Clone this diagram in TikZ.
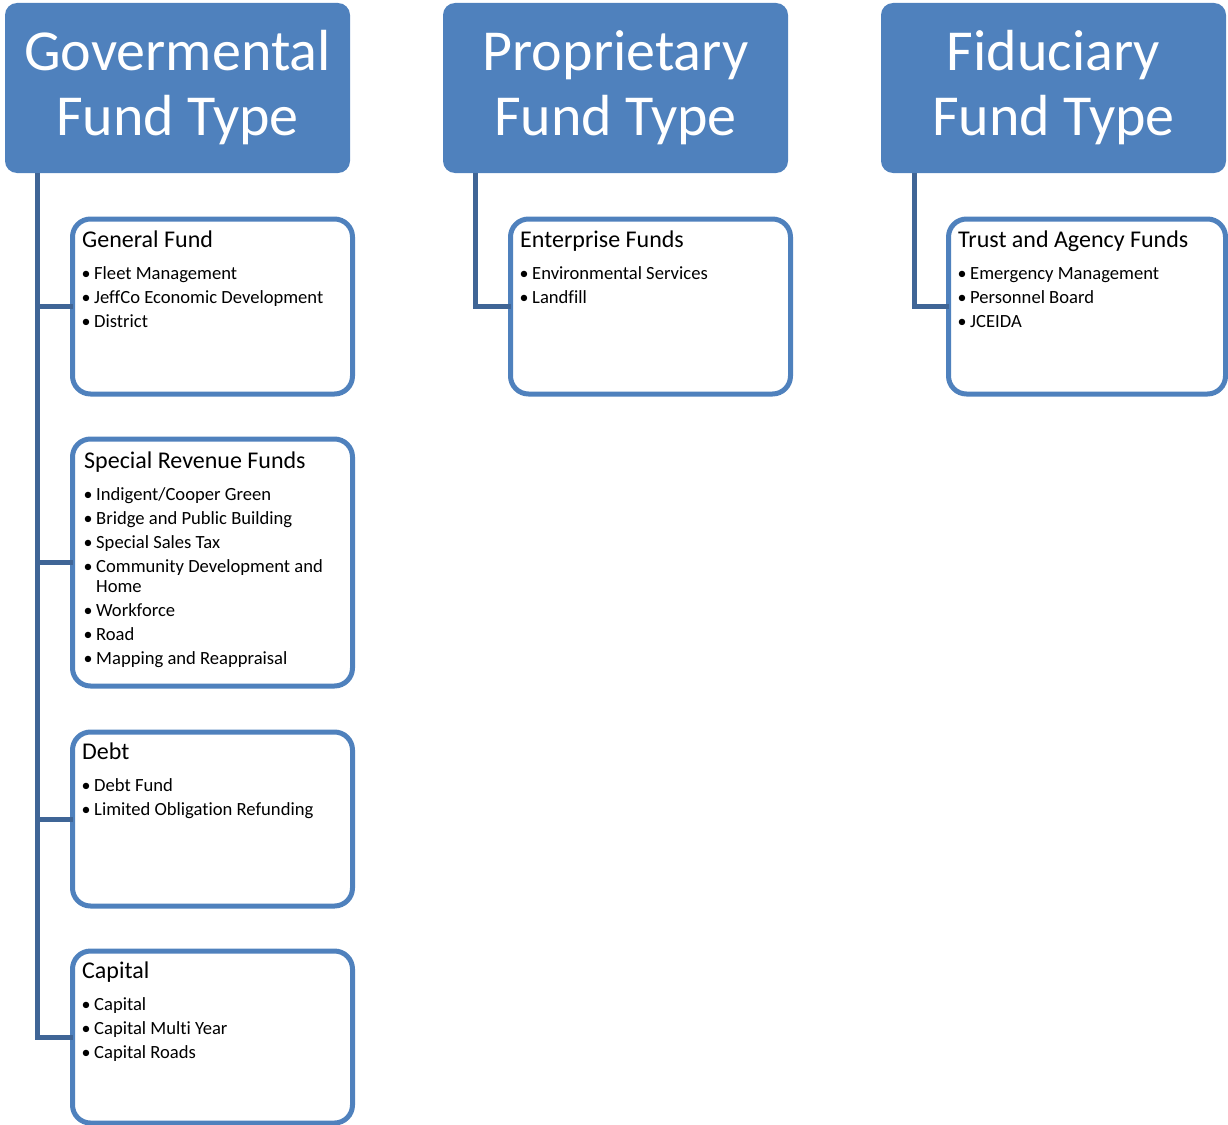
\documentclass[tikz,border=0pt]{standalone}
\usepackage{fontspec}
\setmainfont{Carlito}[Ligatures={NoCommon,NoRequired,NoContextual}]
\definecolor{acc}{RGB}{79,129,189}
\definecolor{connc}{RGB}{63,101,150}
\begin{document}
\begin{tikzpicture}[x=1pt,y=-1pt,
  header/.style={fill=acc, draw=none, rounded corners=12pt, anchor=north west,
    minimum width=345pt, minimum height=170pt, inner sep=0pt, outer sep=0pt, text=white,
    font=\fontsize{58}{65}\selectfont, align=center},
  child/.style={draw=acc, line width=5pt, fill=white, rounded corners=18pt,
    anchor=north west, inner sep=0pt, outer sep=0pt},
  ttl/.style={anchor=base west, font=\fontsize{24}{28}\selectfont, inner sep=0pt},
  itm/.style={anchor=base west, font=\fontsize{18.6}{20}\selectfont, inner sep=0pt},
  bul/.style={anchor=base, font=\fontsize{18}{20}\selectfont, inner sep=0pt},
  connector/.style={draw=connc, line width=5pt}]
\useasboundingbox (0,0) rectangle (1228,1124);

% headers
\node[header] (hg) at (5,3) {Govermental\\Fund Type};
\node[header] (hp) at (443,3) {Proprietary\\Fund Type};
\node[header] (hf) at (881,3) {Fiduciary\\Fund Type};

\coordinate (gtop) at (37.5,173);
\coordinate (ptop) at (475.5,173);
\coordinate (ftop) at (914,173);

% child boxes
\node[child, minimum width=280pt, minimum height=175pt] (gf) at (72.5,219) {};
\node[child, minimum width=280pt, minimum height=247pt] (sr) at (72.5,439) {};
\node[child, minimum width=280pt, minimum height=174pt] (db) at (72.5,732) {};
\node[child, minimum width=280pt, minimum height=172pt] (cp) at (72.5,951) {};
\node[child, minimum width=280pt, minimum height=175pt] (ef) at (510.5,219) {};
\node[child, minimum width=277pt, minimum height=175pt] (ta) at (948.5,219) {};

% connectors
\draw[connector] (gtop) |- (gf.west);
\draw[connector] (gtop) |- (sr.west);
\draw[connector] (gtop) |- (db.west);
\draw[connector] (gtop) |- (cp.west);
\draw[connector] (ptop) |- (ef.west);
\draw[connector] (ftop) |- (ta.west);

% General Fund
\node[ttl] (gft) at (82,247) {General Fund};
\node[bul] (gfb1) at (86,279) {•}; \node[itm] (gf1) at (94,279) {Fleet Management};
\node[bul] (gfb2) at (86,303) {•}; \node[itm] (gf2) at (94,303) {JeffCo Economic Development};
\node[bul] (gfb3) at (86,327) {•}; \node[itm] (gf3) at (94,327) {District};

% Special Revenue
\node[ttl] (srt) at (84,468) {Special Revenue Funds};
\node[bul] (srb1) at (88,500) {•}; \node[itm] (sr1) at (96,500) {Indigent/Cooper Green};
\node[bul] (srb2) at (88,524) {•}; \node[itm] (sr2) at (96,524) {Bridge and Public Building};
\node[bul] (srb3) at (88,548) {•}; \node[itm] (sr3) at (96,548) {Special Sales Tax};
\node[bul] (srb4) at (88,572) {•}; \node[itm] (sr4) at (96,572) {Community Development and};
\node[itm] (sr4b) at (96,592) {Home};
\node[bul] (srb5) at (88,616) {•}; \node[itm] (sr5) at (96,616) {Workforce};
\node[bul] (srb6) at (88,640) {•}; \node[itm] (sr6) at (96,640) {Road};
\node[bul] (srb7) at (88,664) {•}; \node[itm] (sr7) at (96,664) {Mapping and Reappraisal};

% Debt
\node[ttl] (dbt) at (82,759) {Debt};
\node[bul] (dbb1) at (86,791) {•}; \node[itm] (db1) at (94,791) {Debt Fund};
\node[bul] (dbb2) at (86,815) {•}; \node[itm] (db2) at (94,815) {Limited Obligation Refunding};

% Capital
\node[ttl] (cpt) at (82,978) {Capital};
\node[bul] (cpb1) at (86,1010) {•}; \node[itm] (cp1) at (94,1010) {Capital};
\node[bul] (cpb2) at (86,1034) {•}; \node[itm] (cp2) at (94,1034) {Capital Multi Year};
\node[bul] (cpb3) at (86,1058) {•}; \node[itm] (cp3) at (94,1058) {Capital Roads};

% Enterprise
\node[ttl] (eft) at (520,247) {Enterprise Funds};
\node[bul] (efb1) at (524,279) {•}; \node[itm] (ef1) at (532,279) {Environmental Services};
\node[bul] (efb2) at (524,303) {•}; \node[itm] (ef2) at (532,303) {Landfill};

% Trust and Agency
\node[ttl] (tat) at (958,247) {Trust and Agency Funds};
\node[bul] (tab1) at (962,279) {•}; \node[itm] (ta1) at (970,279) {Emergency Management};
\node[bul] (tab2) at (962,303) {•}; \node[itm] (ta2) at (970,303) {Personnel Board};
\node[bul] (tab3) at (962,327) {•}; \node[itm] (ta3) at (970,327) {JCEIDA};
\end{tikzpicture}
\end{document}
